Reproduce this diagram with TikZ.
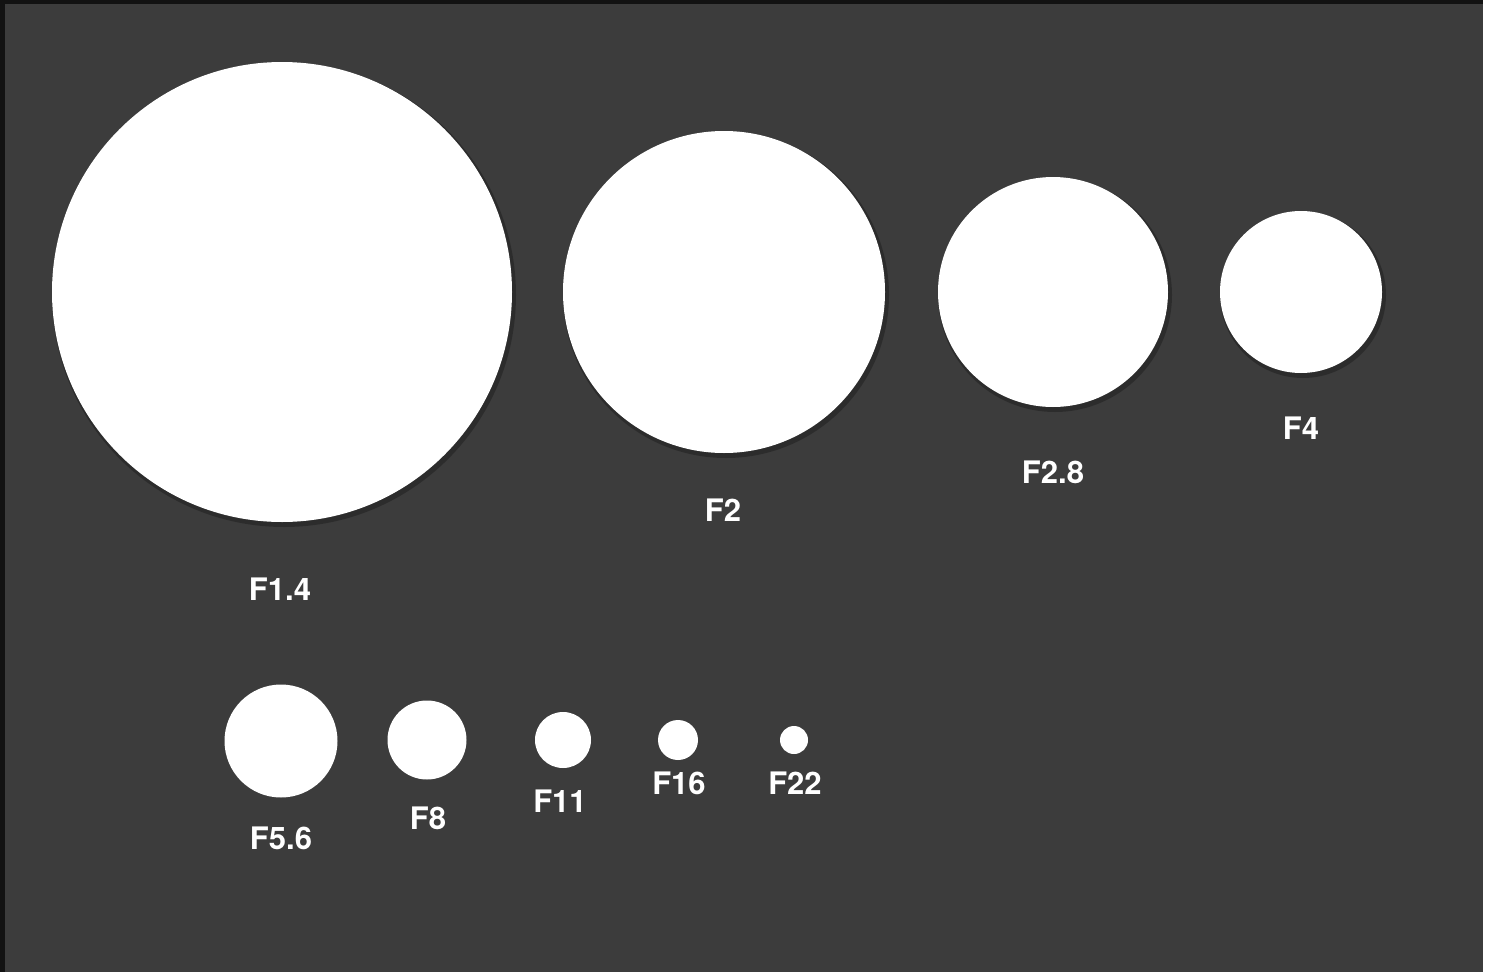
\documentclass[tikz,border=0pt]{standalone}
\usepackage{fontspec}
\setmainfont{TeX Gyre Heros}
\definecolor{bg}{RGB}{60,60,60}
\definecolor{edge}{RGB}{18,18,18}
\tikzset{
  aperture/.style={circle, fill=white, draw=none, inner sep=0pt, minimum size=#1},
  fstop/.style={text=white, font=\bfseries\fontsize{31}{31}\selectfont, inner sep=0pt, anchor=center},
  shade/.style={fill=black, opacity=0.25}
}
\begin{document}
\begin{tikzpicture}[x=1pt, y=-1pt]
\useasboundingbox (0,0) rectangle (1492,972);
\fill[bg] (0,0) rectangle (1492,972);
\fill[edge] (0,0) rectangle (5,972);
\fill[edge] (0,0) rectangle (1483,4);
\fill[white] (1483,0) rectangle (1492,972);
% shadows
\fill[shade] (284,295) circle (232);
\fill[shade] (726,295) circle (163);
\fill[shade] (1055,295) circle (117);
\fill[shade] (1303,295) circle (83);
% apertures, top row
\node[aperture=460pt] (c14) at (282,292) {};
\node[aperture=322pt] (c2) at (724,292) {};
\node[aperture=230pt] (c28) at (1053,292) {};
\node[aperture=162pt] (c4) at (1301,292) {};
% bottom row
\node[aperture=113pt] (c56) at (281,741) {};
\node[aperture=79pt] (c8) at (427,740) {};
\node[aperture=56pt] (c11) at (563,740) {};
\node[aperture=40pt] (c16) at (678,740) {};
\node[aperture=28pt] (c22) at (794,740) {};
% labels
\node[fstop] (l14) at (280,589) {F1.4};
\node[fstop] (l2) at (723,510) {F2};
\node[fstop] (l28) at (1053,472) {F2.8};
\node[fstop] (l4) at (1301,428) {F4};
\node[fstop] (l56) at (281,838) {F5.6};
\node[fstop] (l8) at (428,818) {F8};
\node[fstop] (l11) at (560,801) {F11};
\node[fstop] (l16) at (679,783) {F16};
\node[fstop] (l22) at (795,783) {F22};
\end{tikzpicture}
\end{document}
